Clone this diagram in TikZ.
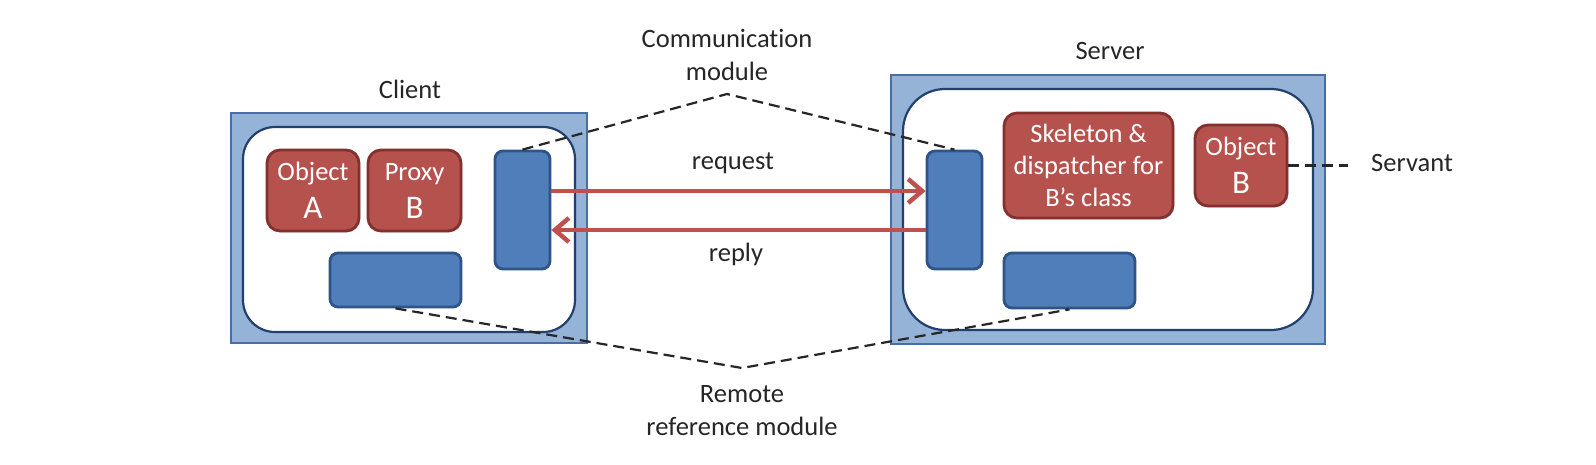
\documentclass[tikz,border=0pt]{standalone}
\usepackage{fontspec}
\setmainfont{Carlito}[Ligatures=NoCommon]
\usetikzlibrary{arrows.meta,shadows}
\definecolor{outerfill}{HTML}{95B3D7}
\definecolor{outerdraw}{HTML}{4A6EA3}
\definecolor{innerdraw}{HTML}{22406E}
\definecolor{commfill}{HTML}{4F7EBA}
\definecolor{commdraw}{HTML}{2F5487}
\definecolor{redfill}{HTML}{B5524E}
\definecolor{reddraw}{HTML}{83302E}
\definecolor{arrcol}{HTML}{C0504D}
\tikzset{
  outerbox/.style={draw=outerdraw, fill=outerfill, line width=2.5pt, inner sep=0pt},
  innerbox/.style={draw=innerdraw, fill=white, line width=2.2pt, inner sep=0pt},
  commbox/.style={draw=commdraw, fill=commfill, line width=2.8pt, rounded corners=8pt, inner sep=0pt},
  redbox/.style={draw=reddraw, fill=redfill, line width=2.8pt, rounded corners=13pt, inner sep=0pt,
    text=white, align=center, font=\fontsize{26.5}{32}\selectfont,
    drop shadow={opacity=0.25, shadow xshift=1.5pt, shadow yshift=-1.5pt}},
  big/.style={},
  lbl/.style={font=\fontsize{26.5}{33}\selectfont, align=center, text=black!85},
  arr/.style={draw=arrcol, line width=4.5pt, -{Straight Barb[length=14pt,width=24pt,line width=4.5pt]}},
  dashline/.style={draw=black!85, line width=2.2pt, dash pattern=on 11pt off 6pt}
}
\newcommand{\bigletter}[1]{{\fontsize{33}{36}\selectfont #1}}
\begin{document}
\begin{tikzpicture}[x=1pt,y=-1pt]
\useasboundingbox[fill=white] (0,0) rectangle (1596,464);
% Client
\node[outerbox, minimum width=356pt, minimum height=230pt] (clo) at (409,228) {};
\node[innerbox, rounded corners=32pt, minimum width=332pt, minimum height=205pt] (cli) at (409,229.5) {};
\node[redbox, minimum width=92pt, minimum height=81pt] (oa) at (313,190.5) {Object\\[6pt]\bigletter{A}};
\node[redbox, minimum width=93pt, minimum height=81pt] (pb) at (414.5,190.5) {Proxy\\[6pt]\bigletter{B}};
\node[commbox, minimum width=55pt, minimum height=118pt] (cc) at (522.5,210) {};
\node[commbox, minimum width=131pt, minimum height=54pt] (rc) at (395.5,280) {};
\node[lbl] (clientlbl) at (410,89) {Client};
% Server
\node[outerbox, minimum width=434pt, minimum height=269pt] (sro) at (1108,209.5) {};
\node[innerbox, rounded corners=42pt, minimum width=410pt, minimum height=241pt] (sri) at (1108,209.5) {};
\node[commbox, minimum width=55pt, minimum height=118pt] (cs) at (954.5,210) {};
\node[redbox, minimum width=169pt, minimum height=105pt] (sk) at (1088.5,165.5) {Skeleton \&\\dispatcher for\\B’s class};
\node[redbox, minimum width=92pt, minimum height=81pt] (ob) at (1241,165.5) {Object\\[6pt]\bigletter{B}};
\node[commbox, minimum width=131pt, minimum height=55pt] (rs) at (1069.5,280.5) {};
\node[lbl] (serverlbl) at (1110,51) {Server};
% arrows
\draw[arr] ([yshift=19pt]cc.east) -- ([yshift=19pt]cs.west);
\draw[arr] ([yshift=-20pt]cs.west) -- ([yshift=-20pt]cc.east);
\node[lbl] (reqlbl) at (733,163) {request};
\node[lbl] (replbl) at (736,254) {reply};
% communication module
\node[lbl] (commlbl) at (727,55) {Communication\\module};
\coordinate (capex) at (727,94);
\draw[dashline] (cc.north) -- (capex) -- (cs.north);
% remote reference module
\node[lbl] (remlbl) at (742,411) {Remote\\reference module};
\coordinate (rapex) at (742,368);
\draw[dashline] (rc.south) -- (rapex) -- (rs.south);
% servant
\coordinate (servend) at (1348,165.5);
\draw[dashline] (ob.east) -- (servend);
\node[lbl] (servlbl) at (1412,163) {Servant};
\end{tikzpicture}
\end{document}
